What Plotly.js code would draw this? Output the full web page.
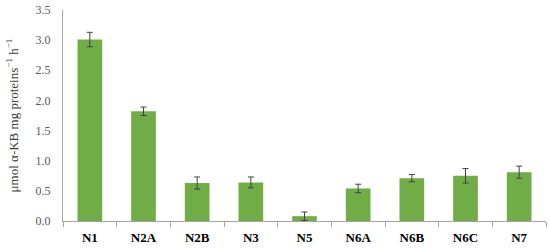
<!DOCTYPE html>
<html>
<head>
<meta charset="utf-8">
<script src="https://cdn.plot.ly/plotly-3.0.1.min.js"></script>
<style>
  html, body { margin: 0; padding: 0; background: #fff; }
  #chart { width: 550px; height: 248px; }
</style>
</head>
<body>
<div id="chart"></div>
<script>
// samples and enzyme activity
const samples = ["N1", "N2A", "N2B", "N3", "N5", "N6A", "N6B", "N6C", "N7"];
const activity = [3.01, 1.82, 0.63, 0.64, 0.08, 0.54, 0.71, 0.75, 0.81];
const errors = [0.12, 0.07, 0.10, 0.09, 0.07, 0.07, 0.06, 0.12, 0.10];
const yTicks = [0, 0.5, 1, 1.5, 2, 2.5, 3, 3.5];

const serif = "'Liberation Serif', 'DejaVu Serif', serif";

const trace = {
    x: samples,
    y: activity,
    type: "bar",
    marker: {color: "#70ad47"},
    error_y: {type: "data", array: errors, visible: true, color: "#404040", thickness: 1, width: 3},
    hoverinfo: "skip"
};

Plotly.newPlot("chart", [trace], {
    width: 550,
    height: 248,
    margin: {l: 63, r: 4, t: 10, b: 27},
    bargap: 0.54,
    showlegend: false,
    paper_bgcolor: "#fff",
    plot_bgcolor: "#fff",
    xaxis: {
        showline: true,
        linecolor: "#a6a6a6",
        linewidth: 1,
        ticks: "outside",
        tickson: "boundaries",
        ticklen: 5,
        tickcolor: "#a6a6a6",
        ticklabelstandoff: 4,
        tickfont: {family: serif, size: 13, color: "#000"},
        tickprefix: "<b>",
        ticksuffix: "</b>",
        showgrid: false,
        zeroline: false
    },
    yaxis: {
        range: [0, 3.5],
        tickvals: yTicks,
        tickformat: ".1f",
        showline: true,
        linecolor: "#a6a6a6",
        linewidth: 1,
        ticks: "",
        showgrid: false,
        zeroline: false,
        ticklabelstandoff: 9,
        tickfont: {family: serif, size: 12, color: "#595959"},
        title: {
            text: "μmol α-KB mg proteins<sup>−1</sup> h<sup>−1</sup>",
            font: {family: serif, size: 13, color: "#404040"},
            standoff: 14
        }
    }
}, {displayModeBar: false, staticPlot: true});
</script>
</body>
</html>
